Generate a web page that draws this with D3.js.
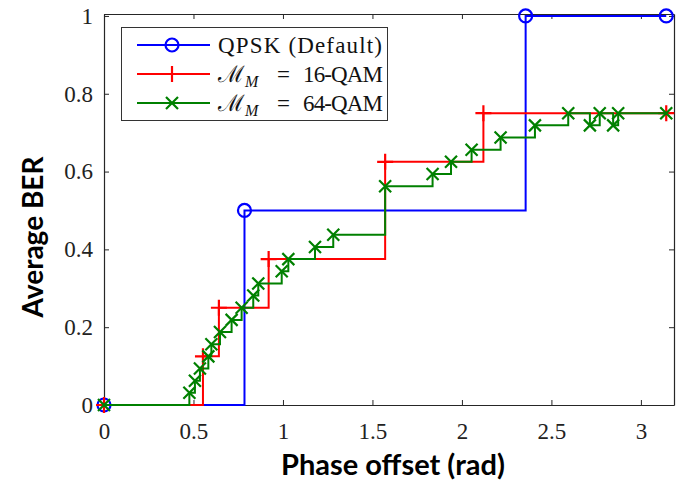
<!DOCTYPE html>
<html>
<head>
<meta charset="utf-8">
<script src="https://cdn.jsdelivr.net/npm/d3@7"></script>
<style>
  html, body { margin: 0; padding: 0; background: #fff; }
  svg { display: block; }
</style>
</head>
<body>
<div id="chart"></div>
<script>
(function () {
  'use strict';

  /* ── Data ── */
  var xTicks = [0, 0.5, 1, 1.5, 2, 2.5, 3];
  var yTicks = [0, 0.2, 0.4, 0.6, 0.8, 1];

  var qpskX = [0, 0.785, 2.356, 3.1416];
  var qpskY = [0, 0.5, 1, 1];

  var qam16X = [0, 0.553, 0.642, 0.92, 1.571, 2.12, 3.1416];
  var qam16Y = [0, 0.125, 0.25, 0.375, 0.625, 0.75, 0.75];

  var qam64X = [0, 0.477, 0.508, 0.536, 0.583, 0.60, 0.648, 0.713, 0.769, 0.834,
                0.862, 0.993, 1.03, 1.179, 1.281, 1.571, 1.836, 1.939, 2.054,
                2.216, 2.408, 2.594, 2.715, 2.77, 2.845, 2.873, 3.1416];
  var qam64Y = [0, 0.03125, 0.0625, 0.09375, 0.125, 0.15625, 0.1875, 0.21875,
                0.25, 0.28125, 0.3125, 0.34375, 0.375, 0.40625, 0.4375, 0.5625,
                0.59375, 0.625, 0.65625, 0.6875, 0.71875, 0.75, 0.71875, 0.75,
                0.71875, 0.75, 0.75];

  var W = 681, H = 480;
  var L = 104, R = 674, T = 14, B = 405;

  var svg = d3.select('#chart').append('svg')
    .attr('width', W).attr('height', H);

  var x = d3.scaleLinear().domain([0, 3.185]).range([L, R]);
  var y = d3.scaleLinear().domain([0, 1.005]).range([B, T]);

  var axisCol = '#262626';
  var tickFont = '"Liberation Serif", "Times New Roman", serif';

  /* ── Axes box + inward ticks ── */
  var ax = svg.append('g');
  ax.append('g')
    .attr('transform', 'translate(0,' + B + ')')
    .call(d3.axisBottom(x).tickValues(xTicks).tickSizeInner(-5).tickSizeOuter(0)
      .tickPadding(18).tickFormat(d3.format('')));
  ax.append('g')
    .attr('transform', 'translate(0,' + T + ')')
    .call(d3.axisTop(x).tickValues(xTicks).tickSizeInner(-5).tickSizeOuter(0)
      .tickFormat(''));
  ax.append('g')
    .attr('transform', 'translate(' + L + ',0)')
    .call(d3.axisLeft(y).tickValues(yTicks).tickSizeInner(-5).tickSizeOuter(0)
      .tickPadding(11).tickFormat(d3.format('')));
  ax.append('g')
    .attr('transform', 'translate(' + R + ',0)')
    .call(d3.axisRight(y).tickValues(yTicks).tickSizeInner(-5).tickSizeOuter(0)
      .tickFormat(''));

  ax.selectAll('.domain').attr('stroke', axisCol).attr('stroke-width', 1.2);
  ax.selectAll('.tick line').attr('stroke', axisCol).attr('stroke-width', 1);
  ax.selectAll('.tick text')
    .attr('font-family', tickFont)
    .attr('font-size', 23)
    .attr('fill', '#222');

  /* ── Series ── */
  function zip(xs, ys) {
    return xs.map(function (v, i) { return [v, ys[i]]; });
  }

  var line = d3.line()
    .x(function (d) { return x(d[0]); })
    .y(function (d) { return y(d[1]); })
    .curve(d3.curveStepAfter);

  var series = [
    { name: 'qpsk', color: '#0000ff', marker: 'circle', data: zip(qpskX, qpskY) },
    { name: '16qam', color: '#ff0000', marker: 'plus', data: zip(qam16X, qam16Y) },
    { name: '64qam', color: '#008000', marker: 'cross', data: zip(qam64X, qam64Y) }
  ];

  function drawMarker(g, type, cx, cy, color) {
    if (type === 'circle') {
      g.append('circle').attr('cx', cx).attr('cy', cy).attr('r', 6.5)
        .attr('fill', 'none').attr('stroke', color).attr('stroke-width', 2.2);
    } else if (type === 'plus') {
      var s = 8;
      g.append('path')
        .attr('d', 'M' + (cx - s) + ',' + cy + 'H' + (cx + s) + 'M' + cx + ',' + (cy - s) + 'V' + (cy + s))
        .attr('stroke', color).attr('stroke-width', 2.2).attr('fill', 'none');
    } else {
      var c = 6;
      g.append('path')
        .attr('d', 'M' + (cx - c) + ',' + (cy - c) + 'L' + (cx + c) + ',' + (cy + c) +
                   'M' + (cx - c) + ',' + (cy + c) + 'L' + (cx + c) + ',' + (cy - c))
        .attr('stroke', color).attr('stroke-width', 2.2).attr('fill', 'none');
    }
  }

  var plotG = svg.append('g');
  series.forEach(function (s) {
    var g = plotG.append('g');
    g.append('path')
      .attr('d', line(s.data))
      .attr('fill', 'none')
      .attr('stroke', s.color)
      .attr('stroke-width', 2);
    s.data.forEach(function (d) {
      drawMarker(g, s.marker, x(d[0]), y(d[1]), s.color);
    });
  });

  /* ── Legend ── */
  var leg = svg.append('g');
  leg.append('rect')
    .attr('x', 121.5).attr('y', 27.5).attr('width', 266).attr('height', 93)
    .attr('fill', '#fff').attr('stroke', '#333').attr('stroke-width', 1);

  var rowsY = [45, 74, 103];
  series.forEach(function (s, i) {
    var ry = rowsY[i];
    leg.append('line')
      .attr('x1', 137).attr('x2', 210).attr('y1', ry).attr('y2', ry)
      .attr('stroke', s.color).attr('stroke-width', 2);
    drawMarker(leg, s.marker, 172, ry, s.color);
  });

  var legText = leg.append('g')
    .attr('font-family', tickFont)
    .attr('font-size', 23)
    .attr('fill', '#111');

  legText.append('text').attr('x', 218).attr('y', rowsY[0] + 8)
    .attr('textLength', 164).attr('lengthAdjust', 'spacing')
    .text('QPSK (Default)');

  ['16-QAM', '64-QAM'].forEach(function (lab, i) {
    var by = rowsY[i + 1] + 8;
    var t = legText.append('text').attr('x', 218).attr('y', by);
    t.append('tspan').attr('font-family', '"DejaVu Serif", serif').attr('font-size', 23).text('\u2133');
    t.append('tspan').attr('font-style', 'italic').attr('font-size', 16).attr('dy', 5).text('M');
    legText.append('text').attr('x', 277).attr('y', by).text('=');
    legText.append('text').attr('x', 303).attr('y', by)
      .attr('textLength', 80).attr('lengthAdjust', 'spacing').text(lab);
  });

  /* ── Axis titles ── */
  var titleFont = 'Lato, "Open Sans", sans-serif';
  svg.append('text')
    .attr('x', 393).attr('y', 475)
    .attr('text-anchor', 'middle')
    .attr('font-family', titleFont).attr('font-weight', 700)
    .attr('font-size', 29).attr('fill', '#000')
    .text('Phase offset (rad)');

  svg.append('text')
    .attr('transform', 'translate(43,237) rotate(-90)')
    .attr('text-anchor', 'middle')
    .attr('font-family', titleFont).attr('font-weight', 700)
    .attr('font-size', 28).attr('fill', '#000')
    .text('Average BER');
})();
</script>
</body>
</html>
